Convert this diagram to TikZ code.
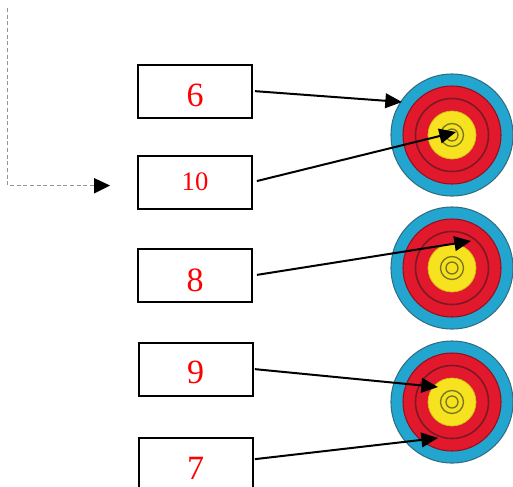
\documentclass[tikz,border=0pt]{standalone}
\usepackage{fontspec}
\setmainfont{Liberation Serif}
\usetikzlibrary{arrows.meta}
\definecolor{tblue}{RGB}{34,166,208}
\definecolor{tred}{RGB}{226,24,44}
\definecolor{tyellow}{RGB}{246,226,30}
\definecolor{tedge}{RGB}{50,110,130}
\definecolor{tring}{RGB}{125,25,35}
\definecolor{tgold}{RGB}{120,115,30}
\newdimen\pxu \pxu=0.75pt
\tikzset{
  numbox/.style={draw=black,line width=1.5pt,fill=white,minimum width=114\pxu,minimum height=53\pxu,inner sep=0pt,text=red,text depth=0pt,font=\fontsize{25.5}{28}\selectfont},
  smallnum/.style={font=\fontsize{20}{24}\selectfont},
  pointer/.style={draw=black,line width=1.5pt,-{Triangle[length=12.5pt,width=11pt]}},
  guide/.style={draw=black!42,line width=0.6pt,densely dashed},
  guidetip/.style={fill=black,draw=none}
}
\newcommand{\archery}[2]{%
  \fill[tblue,draw=tedge,line width=0.8pt] (#1,#2) circle[radius=61];
  \fill[tred,draw=tred!65!black,line width=0.8pt] (#1,#2) circle[radius=49];
  \draw[tring,line width=1.2pt] (#1,#2) circle[radius=36.5];
  \fill[tyellow,draw=tyellow!85!black,line width=0.5pt] (#1,#2) circle[radius=24];
  \draw[tgold,line width=1pt] (#1,#2) circle[radius=11.5];
  \draw[tgold,line width=1pt] (#1,#2) circle[radius=6];
}
\begin{document}
\begin{tikzpicture}[x=0.75pt,y=-0.75pt]
\useasboundingbox (0,0) rectangle (513,486);
\begin{scope}
\clip (0,0) rectangle (513,486);
\archery{452}{135}
\archery{452}{268}
\archery{452}{402}
\node[numbox,text height=23.2pt] (b6) at (195,91) {6};
\node[numbox,smallnum] (b10) at (195,182) {10};
\node[numbox,text height=24pt] (b8) at (195,275.5) {8};
\node[numbox,text height=22pt] (b9) at (195.5,369) {9};
\node[numbox,text height=23.2pt] (b7) at (195.5,464.5) {7};
\end{scope}
\coordinate (t6) at (402,102);
\coordinate (t10) at (456,132);
\coordinate (t8) at (471,241);
\coordinate (t9) at (438,387);
\coordinate (t7) at (438,438);
\coordinate (g0) at (7.5,8);
\coordinate (g1) at (7.5,185.5);
\coordinate (g2) at (95,185.5);
\draw[pointer,shorten <=1.5pt] (b6.east) -- (t6);
\draw[pointer,shorten <=3pt] (b10.east) -- (t10);
\draw[pointer,shorten <=3pt] (b8.east) -- (t8);
\draw[pointer,shorten <=1pt] (b9.east) -- (t9);
\draw[pointer,shorten <=1pt] ([yshift=3.9pt]b7.east) -- (t7);
\draw[guide] (g0) -- (g1) -- (g2);
\fill[guidetip] (94,178) -- (110,185.5) -- (94,193.5) -- cycle;
\end{tikzpicture}
\end{document}
